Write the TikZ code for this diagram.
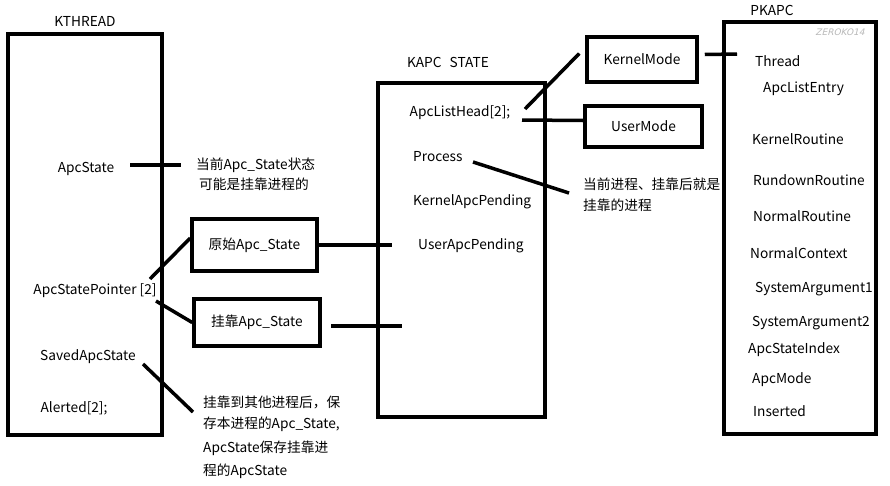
\documentclass[tikz,border=0pt]{standalone}
\usepackage{fontspec}
\setmainfont{Noto Sans CJK SC}
\newfontfamily\wmfont[FakeSlant=0.25]{DejaVu Sans}
\begin{document}
\begin{tikzpicture}[x=1pt,y=-1pt]
\tikzset{
  box/.style={draw, line width=3.5pt, inner sep=0pt},
  txt/.style={font=\fontsize{13.7}{15}\selectfont, inner sep=0pt},
  lt/.style={txt, anchor=west},
  wire/.style={line width=3.5pt},
}
\useasboundingbox[fill=white] (0,0) rectangle (890,485);

% main structure boxes
\node[box, minimum width=154pt, minimum height=401pt] (kthread) at (85,234.5) {};
\node[box, minimum width=167pt, minimum height=334pt] (kapc) at (461.5,250) {};
\node[box, minimum width=152pt, minimum height=412pt] (pkapc) at (800,228) {};

% titles
\node[txt] (tk) at (85,21) {KTHREAD};
\node[txt] (ta) at (448,62) {KAPC\hspace{0.6em}STATE};
\node[txt] (tp) at (772,10) {PKAPC};
\node[inner sep=0pt, text=gray!55, font=\wmfont\fontsize{9}{10}\selectfont] (wm) at (840,32) {ZEROKO14};

% KTHREAD fields
\node[txt] (apcstate) at (86,169) {ApcState};
\node[txt] (ptr) at (95,291) {ApcStatePointer [2]};
\node[txt] (saved) at (88,357) {SavedApcState};
\node[txt] (alerted) at (74,408) {Alerted[2];};

% small boxes
\node[box, txt, minimum width=125pt, minimum height=52pt] (orig) at (254.5,245) {原始Apc\_State};
\node[box, txt, minimum width=126pt, minimum height=47pt] (att) at (257,322.5) {挂靠Apc\_State};
\node[box, txt, minimum width=110pt, minimum height=45pt] (km) at (642,59.5) {KernelMode};
\node[box, txt, minimum width=117pt, minimum height=41pt] (um) at (643.5,126.5) {UserMode};

% KAPC_STATE fields
\node[txt] (alh) at (460,113) {ApcListHead[2];};
\node[lt] (proc) at (413,157) {Process};
\node[lt] (kap) at (413,202) {KernelApcPending};
\node[lt] (uap) at (418,246) {UserApcPending};

% PKAPC fields
\node[lt] (f1) at (755,61) {Thread};
\node[lt] (f2) at (763,89) {ApcListEntry};
\node[lt] (f3) at (752,139) {KernelRoutine};
\node[lt] (f4) at (753,180) {RundownRoutine};
\node[lt] (f5) at (753,216) {NormalRoutine};
\node[lt] (f6) at (750,253) {NormalContext};
\node[lt] (f7) at (755,289) {SystemArgument1};
\node[lt] (f8) at (752,323) {SystemArgument2};
\node[lt] (f9) at (748,350) {ApcStateIndex};
\node[lt] (f10) at (752,380) {ApcMode};
\node[lt] (f11) at (753,411) {Inserted};

% annotations
\node[lt] (n1a) at (196,165) {当前Apc\_State状态};
\node[lt] (n1b) at (199,184) {可能是挂靠进程的};
\node[lt] (n2a) at (583,184) {当前进程、挂靠后就是};
\node[lt] (n2b) at (583,205) {挂靠的进程};
\node[lt] (n3a) at (203,402) {挂靠到其他进程后，保};
\node[lt] (n3b) at (203,424) {存本进程的Apc\_State,};
\node[lt] (n3c) at (203,448) {ApcState保存挂靠进};
\node[lt] (n3d) at (203,471) {程的ApcState};

% connector end points
\coordinate (c1a) at (130,165);
\coordinate (c1b) at (181,165);
\coordinate (c2a) at (150,279);
\coordinate (c3a) at (156,301);
\coordinate (c4a) at (143,364);
\coordinate (c4b) at (193,412);
\coordinate (c5b) at (392,245);
\coordinate (c6a) at (331,326);
\coordinate (c6b) at (402,326);
\coordinate (c7a) at (525,109);
\coordinate (c8a) at (522,120);
\coordinate (c9a) at (473,162);
\coordinate (c9b) at (569,193);
\coordinate (c10b) at (737,54);

% connectors
\draw[wire] (c1a) -- (c1b);
\draw[wire] (c2a) -- ([yshift=7pt]orig.west);
\draw[wire] (c3a) -- (att.west);
\draw[wire] (c4a) -- (c4b);
\draw[wire] (orig.east) -- (c5b);
\draw[wire] (c6a) -- (c6b);
\draw[wire] (c7a) -- ([xshift=-6pt,yshift=6pt]km.west);
\draw[wire] (c8a) -- ([yshift=6pt]um.west);
\draw[wire] (c9a) -- (c9b);
\draw[wire] ([xshift=6pt,yshift=5pt]km.east) -- (c10b);
\end{tikzpicture}
\end{document}
